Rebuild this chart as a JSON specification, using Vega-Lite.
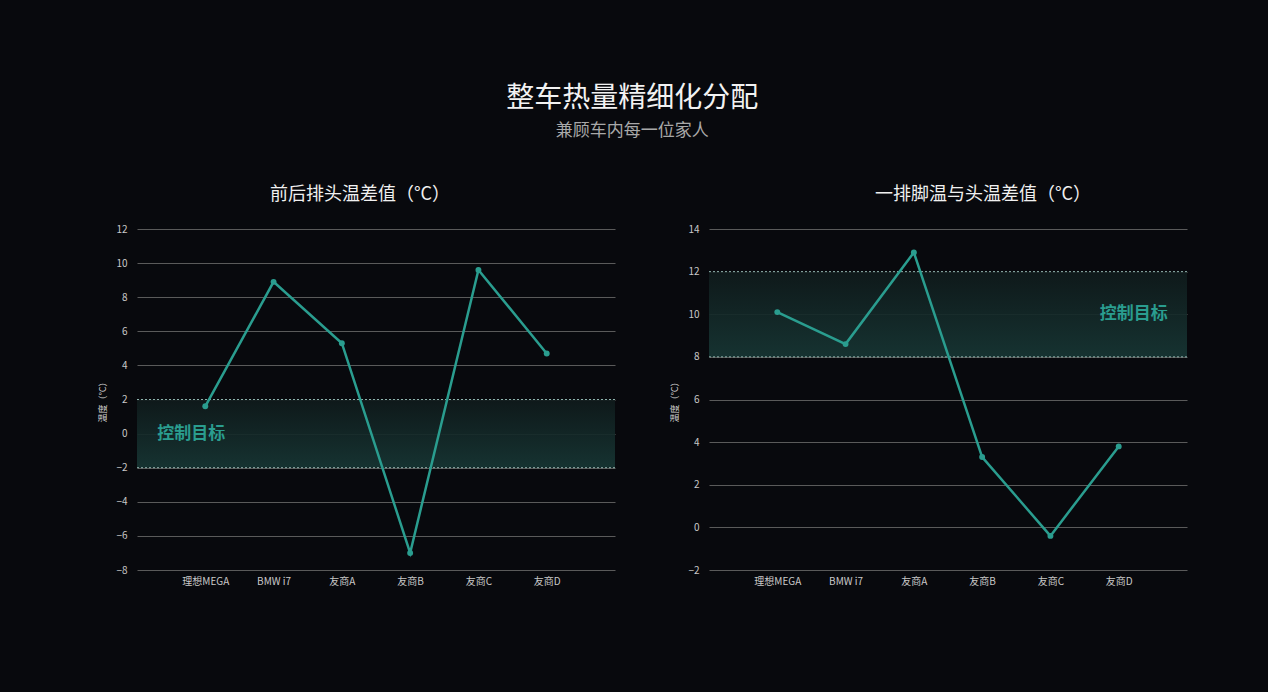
{
  "$schema": "https://vega.github.io/schema/vega-lite/v6.json",
  "background": "#08090d",
  "padding": {"left": 98, "top": 85, "right": 80, "bottom": 115},
  "title": {
    "text": "整车热量精细化分配",
    "subtitle": "兼顾车内每一位家人",
    "anchor": "middle",
    "fontSize": 28,
    "fontWeight": "normal",
    "color": "#f2f2f2",
    "subtitleFontSize": 17,
    "subtitleColor": "#a8a8a8",
    "subtitlePadding": 10,
    "offset": 47,
    "dx": -11
  },
  "datasets": {
    "front_rear": [
      {"car": "理想MEGA", "diff": 1.6},
      {"car": "BMW i7", "diff": 8.9},
      {"car": "友商A", "diff": 5.3},
      {"car": "友商B", "diff": -7.0},
      {"car": "友商C", "diff": 9.6},
      {"car": "友商D", "diff": 4.7}
    ],
    "foot_head": [
      {"car": "理想MEGA", "diff": 10.1},
      {"car": "BMW i7", "diff": 8.6},
      {"car": "友商A", "diff": 12.9},
      {"car": "友商B", "diff": 3.3},
      {"car": "友商C", "diff": -0.4},
      {"car": "友商D", "diff": 3.8}
    ]
  },
  "hconcat": [
    {
      "width": 478,
      "height": 341,
      "title": {"text": "前后排头温差值（°C）", "dx": -16},
      "layer": [
        {
          "data": {"values": [{"lo": -2, "hi": 2}]},
          "mark": {
            "type": "rect",
            "color": {
              "gradient": "linear",
              "x1": 0, "y1": 0, "x2": 0, "y2": 1,
              "stops": [
                {"offset": 0, "color": "#0f1a1b"},
                {"offset": 1, "color": "#173634"}
              ]
            },
            "opacity": 0.92
          },
          "encoding": {
            "y": {"field": "lo", "type": "quantitative",
                  "scale": {"domain": [-8, 12]},
                  "axis": {"title": "温度（°C）", "tickCount": 11, "values": [-8, -6, -4, -2, 0, 2, 4, 6, 8, 10, 12], "labelOverlap": false}},
            "y2": {"field": "hi"}
          }
        },
        {
          "data": {"values": [{"v": -2}, {"v": 2}]},
          "mark": {"type": "rule", "color": "#8fb3ad", "strokeDash": [2, 2], "strokeWidth": 1},
          "encoding": {"y": {"field": "v", "type": "quantitative",
                  "axis": {"title": "温度（°C）", "tickCount": 11, "values": [-8, -6, -4, -2, 0, 2, 4, 6, 8, 10, 12], "labelOverlap": false}}}
        },
        {
          "data": {"name": "front_rear"},
          "mark": {"type": "line", "color": "#2a9d8f", "strokeWidth": 2.5,
                   "point": {"filled": true, "size": 35, "color": "#2a9d8f"}},
          "encoding": {
            "x": {"field": "car", "type": "nominal", "sort": null,
                  "scale": {"type": "point", "padding": 1,
                            "domain": ["理想MEGA", "BMW i7", "友商A", "友商B", "友商C", "友商D"]},
                  "axis": {"title": null, "labelAngle": 0}},
            "y": {"field": "diff", "type": "quantitative",
                  "axis": {"title": "温度（°C）", "tickCount": 11, "values": [-8, -6, -4, -2, 0, 2, 4, 6, 8, 10, 12], "labelOverlap": false}}
          }
        },
        {
          "data": {"values": [{"car": "理想MEGA", "v": 0, "label": "控制目标"}]},
          "mark": {"type": "text", "color": "#2a9d8f", "fontSize": 17, "fontWeight": "bold",
                   "align": "center", "baseline": "middle", "dx": -14},
          "encoding": {
            "x": {"field": "car", "type": "nominal"},
            "y": {"field": "v", "type": "quantitative",
                  "axis": {"title": "温度（°C）", "tickCount": 11, "values": [-8, -6, -4, -2, 0, 2, 4, 6, 8, 10, 12], "labelOverlap": false}},
            "text": {"field": "label"}
          }
        }
      ]
    },
    {
      "width": 478,
      "height": 341,
      "title": {"text": "一排脚温与头温差值（°C）", "dx": 35},
      "layer": [
        {
          "data": {"values": [{"lo": 8, "hi": 12}]},
          "mark": {
            "type": "rect",
            "color": {
              "gradient": "linear",
              "x1": 0, "y1": 0, "x2": 0, "y2": 1,
              "stops": [
                {"offset": 0, "color": "#0f1a1b"},
                {"offset": 1, "color": "#173634"}
              ]
            },
            "opacity": 0.92
          },
          "encoding": {
            "y": {"field": "lo", "type": "quantitative",
                  "scale": {"domain": [-2, 14]},
                  "axis": {"title": "温度（°C）", "values": [-2, 0, 2, 4, 6, 8, 10, 12, 14], "labelOverlap": false}},
            "y2": {"field": "hi"}
          }
        },
        {
          "data": {"values": [{"v": 8}, {"v": 12}]},
          "mark": {"type": "rule", "color": "#8fb3ad", "strokeDash": [2, 2], "strokeWidth": 1},
          "encoding": {"y": {"field": "v", "type": "quantitative"}}
        },
        {
          "data": {"name": "foot_head"},
          "mark": {"type": "line", "color": "#2a9d8f", "strokeWidth": 2.5,
                   "point": {"filled": true, "size": 35, "color": "#2a9d8f"}},
          "encoding": {
            "x": {"field": "car", "type": "nominal", "sort": null,
                  "scale": {"type": "point", "padding": 1,
                            "domain": ["理想MEGA", "BMW i7", "友商A", "友商B", "友商C", "友商D"]},
                  "axis": {"title": null, "labelAngle": 0}},
            "y": {"field": "diff", "type": "quantitative"}
          }
        },
        {
          "data": {"values": [{"car": "友商D", "v": 10, "label": "控制目标"}]},
          "mark": {"type": "text", "color": "#2a9d8f", "fontSize": 17, "fontWeight": "bold",
                   "align": "center", "baseline": "middle", "dx": 15},
          "encoding": {
            "x": {"field": "car", "type": "nominal"},
            "y": {"field": "v", "type": "quantitative"},
            "text": {"field": "label"}
          }
        }
      ]
    }
  ],
  "spacing": 54,
  "config": {
    "font": "Noto Sans CJK SC",
    "view": {"stroke": null},
    "title": {"fontSize": 18, "fontWeight": "normal", "color": "#f0f0f0", "offset": 20},
    "axis": {
      "domain": false,
      "ticks": false,
      "labelColor": "#c8c8c8",
      "labelFontSize": 10,
      "titleColor": "#d0d0d0",
      "titleFontSize": 9,
      "titleFontWeight": "normal",
      "gridColor": "#5a5a5a",
      "gridWidth": 1
    },
    "axisX": {"grid": false, "labelPadding": 6},
    "axisY": {"labelPadding": 10, "titlePadding": 8}
  }
}
